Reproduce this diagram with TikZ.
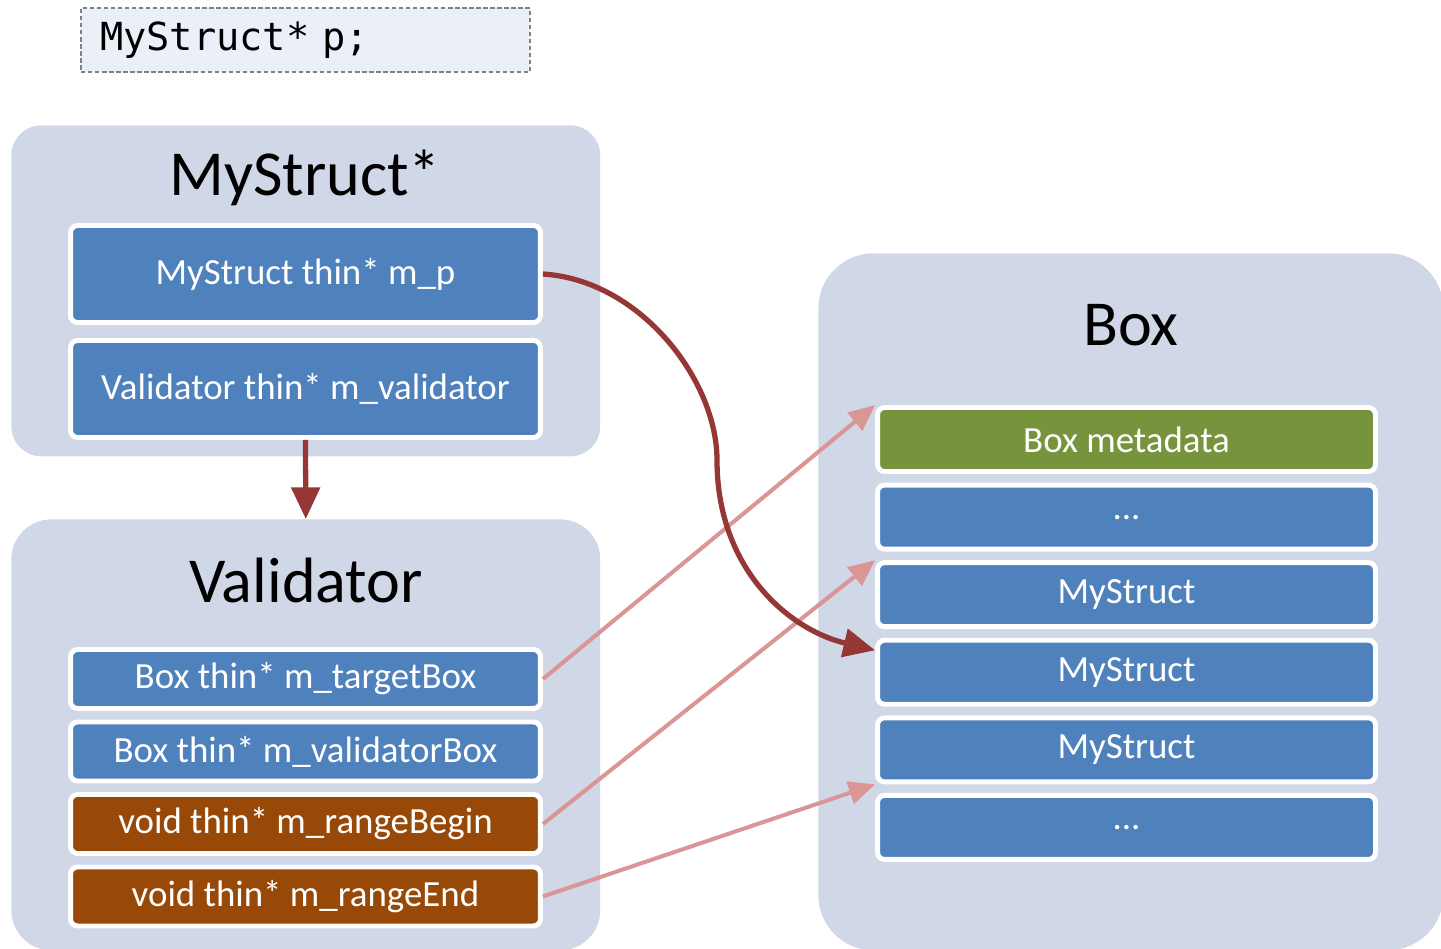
\documentclass[tikz,border=0pt]{standalone}
\usepackage{fontspec}
\setmainfont{Carlito}
\setmonofont{DejaVu Sans Mono}
\usetikzlibrary{positioning, arrows.meta}
\definecolor{panelgray}{HTML}{D0D8E8}
\definecolor{fieldblue}{HTML}{4F81BD}
\definecolor{metagreen}{HTML}{77933C}
\definecolor{rangebrown}{HTML}{984807}
\definecolor{ptrred}{HTML}{953735}
\definecolor{linkpink}{HTML}{D99694}
\definecolor{codebg}{HTML}{EBF0F8}
\tikzstyle{panel} = [rectangle, fill=panelgray, anchor=north west, inner sep=0pt]
\tikzstyle{title} = [font=\fontsize{36.5}{42}\selectfont, anchor=base]
\tikzstyle{field} = [rectangle, rounded corners=4pt, draw=white, line width=2.8pt, fill=fieldblue, text=white, font=\fontsize{21}{24}\selectfont, minimum width=9.4cm, text centered]
\tikzstyle{rangefield} = [field, fill=rangebrown]
\tikzstyle{boxfield} = [field, minimum width=9.96cm, minimum height=1.28cm]
\tikzstyle{metafield} = [boxfield, fill=metagreen]
\tikzstyle{code} = [rectangle, draw=gray, dash pattern=on 2.5pt off 1.5pt, line width=0.8pt, fill=codebg, font=\ttfamily\fontsize{22}{25}\selectfont, minimum height=1.28cm, text width=8.22cm, inner xsep=0.38cm, align=left]
\tikzstyle{owner} = [line width=3pt, draw=ptrred, -{Triangle[length=18pt,width=16pt]}]
\tikzstyle{link} = [line width=2.3pt, draw=linkpink, -{Triangle[length=15pt,width=13pt]}]

\begin{document}
\begin{tikzpicture}[x=0.02cm, y=-0.02cm]
	\useasboundingbox (0,0) rectangle (1441,948);
	\node (decl) [code] at (305.5,40) {MyStruct* p;};
	
	% panels
	\node (structpanel) [panel, rounded corners=0.6cm, minimum width=11.78cm, minimum height=6.62cm] at (11,125) {};
	\node (valpanel) [panel, rounded corners=0.8cm, minimum width=11.78cm, minimum height=8.62cm] at (11,519) {};
	\node (boxpanel) [panel, rounded corners=1.1cm, minimum width=12.5cm, minimum height=13.94cm] at (818,253) {};
	\node (structtitle) [title] at (305,195) {MyStruct*};
	\node (valtitle) [title] at (306,602) {Validator};
	\node (boxtitle) [title] at (1131,345) {Box};
	
	\begin{scope}[node distance=2.3cm]
		\node (mp) [field, minimum height=1.94cm] at (305.5,274) {MyStruct thin* m\_p};
		\node (mv) [field, minimum height=1.94cm, below of=mp] {Validator thin* m\_validator};
	\end{scope}
	
	\begin{scope}[node distance=1.45cm]
		\node (tbox) [field, minimum height=1.18cm] at (305.5,679) {Box thin* m\_targetBox};
		\node (vbox) [field, minimum height=1.18cm, below of=tbox] {Box thin* m\_validatorBox};
		\node (rbegin) [rangefield, minimum height=1.18cm, below of=vbox] {void thin* m\_rangeBegin};
		\node (rend) [rangefield, minimum height=1.18cm, below of=rbegin] {void thin* m\_rangeEnd};
	\end{scope}
	
	\begin{scope}[node distance=1.552cm]
		\node (meta) [metafield] at (1126.5,439.5) {Box metadata};
		\node (dots1) [boxfield, below of=meta] {...};
		\node (ms1) [boxfield, below of=dots1] {MyStruct};
		\node (ms2) [boxfield, below of=ms1] {MyStruct};
		\node (ms3) [boxfield, below of=ms2] {MyStruct};
		\node (dots2) [boxfield, below of=ms3] {...};
	\end{scope}
	
	\draw [owner] (mv.south) -- (valpanel.north);
	\draw [link] (tbox.east) -- (meta.north west);
	\draw [link] (rbegin.east) -- (ms1.north west);
	\draw [link] (rend.east) -- (ms3.south west);
	\draw [owner] (mp.east) .. controls (640,280) and (717,380) .. (717,460) .. controls (717,570) and (790,630) .. (ms2.175);
\end{tikzpicture}
\end{document}
